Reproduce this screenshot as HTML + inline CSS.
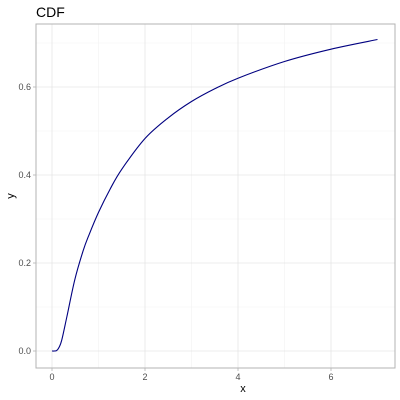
<!DOCTYPE html>
<html><head><meta charset="utf-8"><style>
body{margin:0;background:#fff;}
svg{font-family:"Liberation Sans",sans-serif;display:block}
</style></head><body>
<svg id="chart" width="400" height="400">
<text x="36" y="17" font-size="14" fill="#000">CDF</text>
<text x="243" y="392" font-size="11" fill="#000" text-anchor="middle">x</text>
<text x="14" y="196" font-size="11" fill="#000" text-anchor="middle" transform="rotate(-90 14 196)">y</text>
<g id="grid"></g><g id="axes"></g><g id="series"></g>
<rect x="36" y="24" width="359" height="344" fill="none" stroke="#b3b3b3" stroke-width="1"/>
</svg>
<script>
const xs=[0,0.05,0.1,0.15,0.21,0.32,0.49,0.67,0.8,1,1.25,1.5,2,2.5,3,3.5,4,5,6,7];
const ys=[0,0,0.001,0.008,0.025,0.078,0.162,0.228,0.265,0.315,0.368,0.413,0.483,0.53,0.567,0.596,0.62,0.658,0.686,0.708];
const xTicks=[0,2,4,6];
const yTicks=[0.0,0.2,0.4,0.6];
const xMinor=[1,3,5];
const yMinor=[0.1,0.3,0.5,0.7];
const X=v=>52+v*46.5, Y=v=>351-v*440;
const NS="http://www.w3.org/2000/svg";
const grid=document.getElementById('grid'),axes=document.getElementById('axes'),series=document.getElementById('series');
function line(p,x1,y1,x2,y2,c,w){const l=document.createElementNS(NS,'line');l.setAttribute('x1',x1);l.setAttribute('y1',y1);l.setAttribute('x2',x2);l.setAttribute('y2',y2);l.setAttribute('stroke',c);l.setAttribute('stroke-width',w);p.appendChild(l);return l;}
function txt(p,x,y,s,a){const t=document.createElementNS(NS,'text');t.setAttribute('x',x);t.setAttribute('y',y);t.setAttribute('font-size','9');t.setAttribute('fill','#4d4d4d');t.setAttribute('text-anchor',a);t.textContent=s;p.appendChild(t);return t;}
xMinor.forEach(v=>{const l=line(grid,X(v),24,X(v),368,'#f2f2f2',0.6);

});
yMinor.forEach(v=>{const l=line(grid,36,Y(v),395,Y(v),'#f2f2f2',0.6);

});
xTicks.forEach(v=>{const l=line(grid,X(v),24,X(v),368,'#e6e6e6',0.8);


const tk=line(axes,X(v),368,X(v),371,'#b3b3b3',0.8);


const t=txt(axes,X(v),380,String(v),'middle');

});
yTicks.forEach(v=>{const l=line(grid,36,Y(v),395,Y(v),'#e6e6e6',0.8);


const tk=line(axes,33,Y(v),36,Y(v),'#b3b3b3',0.8);


const t=txt(axes,31,Y(v)+3,v.toFixed(1),'end');

});
const P=xs.map((x,i)=>[X(x),Y(ys[i])]);
let d='M'+P[0][0]+','+P[0][1];
for(let i=0;i<P.length-1;i++){const p0=P[Math.max(0,i-1)],p1=P[i],p2=P[i+1],p3=P[Math.min(P.length-1,i+2)];
d+=' C'+(p1[0]+(p2[0]-p0[0])/6)+','+(p1[1]+(p2[1]-p0[1])/6)+' '+(p2[0]-(p3[0]-p1[0])/6)+','+(p2[1]-(p3[1]-p1[1])/6)+' '+p2[0]+','+p2[1];}
const path=document.createElementNS(NS,'path');path.setAttribute('d',d);path.setAttribute('fill','none');path.setAttribute('stroke','#000080');path.setAttribute('stroke-width','1.1');


series.appendChild(path);
</script>
</body></html>
